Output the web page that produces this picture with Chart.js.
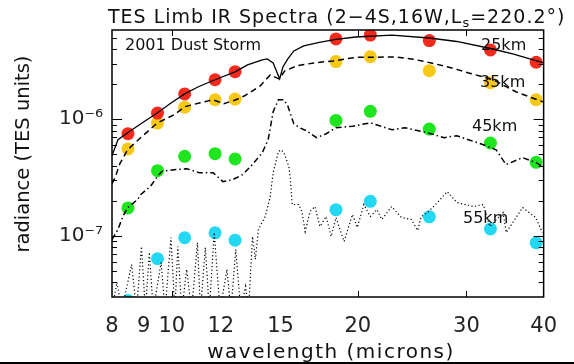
<!DOCTYPE html>
<html>
<head>
<meta charset="utf-8">
<script src="https://cdn.jsdelivr.net/npm/chart.js@4.4.0/dist/chart.umd.min.js"></script>
<style>
    html, body { margin: 0; padding: 0; background: #fff; }
    #wrap { width: 574px; height: 364px; position: relative; }
</style>
</head>
<body>
<div id="wrap"><canvas id="chart" width="574" height="364"></canvas></div>
<script>
(function () {
    "use strict";

    // TES band dots (microns) and limb radiances at each altitude
    const dotWavelengths = [8.49, 9.48, 10.49, 11.75, 12.66, 18.44, 20.96, 26.12, 32.8, 38.9];
    const dots25km = [0.752e-6, 1.13e-6, 1.65e-6, 2.18e-6, 2.56e-6, 4.88e-6, 5.27e-6, 4.72e-6, 3.93e-6, 3.08e-6];
    const dots35km = [0.556e-6, 0.928e-6, 1.27e-6, 1.47e-6, 1.49e-6, 3.12e-6, 3.44e-6, 2.61e-6, 2.06e-6, 1.47e-6];
    const dots45km = [0.174e-6, 0.363e-6, 0.481e-6, 0.507e-6, 0.457e-6, 0.977e-6, 1.17e-6, 0.824e-6, 0.626e-6, 0.428e-6];
    const dots55km = [0.028e-6, 0.0638e-6, 0.0966e-6, 0.1065e-6, 0.092e-6, 0.168e-6, 0.198e-6, 0.146e-6, 0.115e-6, 0.0875e-6];

    // spectra
    const spec25Wl = [8.0, 8.18, 8.48, 8.96, 9.48, 9.97, 10.49, 11.04, 11.75, 12.66, 13.26, 14.01, 14.27, 14.59, 14.81, 14.95, 15.13, 15.41, 15.76, 16.35, 17.33, 18.44, 19.84, 22.72, 26.12, 28.93, 32.8, 35.64, 40];
    const spec25 = [0.488e-6, 0.668e-6, 0.767e-6, 0.934e-6, 1.137e-6, 1.38e-6, 1.65e-6, 1.90e-6, 2.18e-6, 2.55e-6, 2.92e-6, 3.23e-6, 3.29e-6, 3.04e-6, 2.50e-6, 2.22e-6, 2.81e-6, 3.29e-6, 3.85e-6, 4.25e-6, 4.55e-6, 4.83e-6, 5.07e-6, 5.27e-6, 4.97e-6, 4.64e-6, 4.04e-6, 3.63e-6, 3.04e-6];

    const spec35Wl = [8.0, 8.09, 8.24, 8.48, 8.90, 9.48, 10.08, 10.49, 11.08, 11.66, 12.14, 12.70, 13.12, 13.9, 14.43, 14.91, 15.24, 15.94, 16.98, 18.24, 19.84, 22.97, 24.45, 26.31, 28.31, 30.46, 33.15, 36.06, 39.9];
    const spec35 = [0.28e-6, 0.316e-6, 0.417e-6, 0.548e-6, 0.695e-6, 0.934e-6, 1.09e-6, 1.28e-6, 1.38e-6, 1.47e-6, 1.36e-6, 1.47e-6, 1.59e-6, 1.93e-6, 2.40e-6, 2.22e-6, 2.60e-6, 2.87e-6, 3.04e-6, 3.16e-6, 3.39e-6, 3.42e-6, 3.29e-6, 3.04e-6, 2.76e-6, 2.47e-6, 2.18e-6, 1.72e-6, 1.41e-6];

    const spec45Wl = [8.0, 8.18, 8.33, 8.48, 8.80, 8.90, 9.23, 9.48, 9.64, 10.08, 10.57, 11.08, 11.66, 12.10, 12.55, 13.02, 13.50, 14.01, 14.32, 14.59, 14.88, 15.19, 15.41, 15.76, 16.10, 16.53, 17.15, 17.78, 18.44, 19.62, 20.96, 22.72, 23.83, 25.93, 27.60, 28.93, 31.95, 33.5, 34.76, 36.98, 38.9, 39.9];
    const spec45 = [0.0933e-6, 0.1137e-6, 0.1468e-6, 0.175e-6, 0.205e-6, 0.226e-6, 0.266e-6, 0.324e-6, 0.358e-6, 0.370e-6, 0.377e-6, 0.349e-6, 0.349e-6, 0.292e-6, 0.304e-6, 0.3355e-6, 0.4085e-6, 0.517e-6, 0.668e-6, 1.159e-6, 1.47e-6, 1.47e-6, 1.30e-6, 0.915e-6, 0.846e-6, 0.797e-6, 0.695e-6, 0.752e-6, 0.846e-6, 0.871e-6, 0.933e-6, 0.813e-6, 0.846e-6, 0.767e-6, 0.695e-6, 0.723e-6, 0.605e-6, 0.548e-6, 0.409e-6, 0.469e-6, 0.425e-6, 0.393e-6];

    const spec55Wl = [8.0, 8.148, 8.298, 8.608, 8.767, 8.929, 9.061, 9.195, 9.330, 9.608, 9.750, 9.967, 10.113, 10.225, 10.377, 10.568, 10.763, 11.003, 11.125, 11.331, 11.497, 11.710, 11.970, 12.281, 12.462, 12.692, 12.927, 13.166, 13.311, 13.507, 13.656, 13.807, 14.165, 14.43, 14.59, 14.88, 15.02, 15.19, 15.47, 15.56, 15.66, 16.05, 16.24, 16.44, 16.74, 17.05, 17.37, 17.78, 18.11, 18.44, 19.01, 19.61, 19.97, 20.46, 20.96, 21.48, 21.88, 22.70, 23.54, 24.42, 25.01, 25.34, 25.95, 26.92, 27.92, 28.96, 30.78, 31.94, 32.73, 34.38, 34.79, 36.99, 38.83, 39.80];
    const spec55 = [0.023e-6, 0.0401e-6, 0.023e-6, 0.0571e-6, 0.023e-6, 0.0813e-6, 0.023e-6, 0.0723e-6, 0.023e-6, 0.0594e-6, 0.023e-6, 0.0971e-6, 0.023e-6, 0.0813e-6, 0.023e-6, 0.0517e-6, 0.023e-6, 0.088e-6, 0.023e-6, 0.0797e-6, 0.023e-6, 0.107e-6, 0.023e-6, 0.0517e-6, 0.023e-6, 0.0767e-6, 0.023e-6, 0.037e-6, 0.023e-6, 0.099e-6, 0.063e-6, 0.1137e-6, 0.1468e-6, 0.2176e-6, 0.349e-6, 0.528e-6, 0.548e-6, 0.517e-6, 0.393e-6, 0.304e-6, 0.186e-6, 0.186e-6, 0.162e-6, 0.109e-6, 0.162e-6, 0.1787e-6, 0.1206e-6, 0.1468e-6, 0.099e-6, 0.1439e-6, 0.0897e-6, 0.1527e-6, 0.1182e-6, 0.186e-6, 0.1468e-6, 0.1684e-6, 0.1384e-6, 0.1787e-6, 0.1439e-6, 0.1384e-6, 0.1114e-6, 0.1468e-6, 0.1589e-6, 0.1933e-6, 0.240e-6, 0.1933e-6, 0.1787e-6, 0.186e-6, 0.1206e-6, 0.1589e-6, 0.107e-6, 0.175e-6, 0.1439e-6, 0.107e-6];

    // axes
    const xTickValues = [8, 9, 10, 12, 15, 20, 30, 40];
    const xInnerTicks = [10, 20, 30];
    const yLabelValues = [1e-7, 1e-6];
    const yLabelTexts = ["10\u207B\u2077", "10\u207B\u2076"];
    const yMin = 3.04e-8;
    const yMax = 5.82e-6;

    const altLabels = ["25km", "35km", "45km", "55km"];

    const FONT = '"DejaVu Sans", sans-serif';

    const pts = (xs, ys) => xs.map((x, i) => ({ x: x, y: ys[i] }));

    const lineSet = (xs, ys, dash, width) => ({
        data: pts(xs, ys),
        borderColor: "#000",
        borderWidth: width,
        borderDash: dash,
        pointRadius: 0,
        tension: 0,
        fill: false,
        clip: 0,
    });

    const dotSet = (ys, color) => ({
        data: pts(dotWavelengths, ys),
        showLine: false,
        pointRadius: 6.5,
        pointHoverRadius: 6.5,
        pointBorderWidth: 0,
        pointBackgroundColor: color,
        borderColor: color,
        clip: 0,
    });

    // yTicks at 1..9 per decade
    const yTickValues = [];
    for (let e = -8; e <= -6; e++) {
        for (let m = 1; m <= 9; m++) {
            const v = m * Math.pow(10, e);
            if (v >= yMin && v <= yMax) yTickValues.push(v);
        }
    }

    const isDecade = (v) => Math.abs(Math.log10(v) - Math.round(Math.log10(v))) < 1e-6;

    const decorations = {
        id: "decorations",
        afterDatasetsDraw(chart) {
            const { ctx, chartArea: a, scales } = chart;
            const x = scales.x, y = scales.y;
            ctx.save();

            // frame
            ctx.strokeStyle = "#000";
            ctx.lineWidth = 1.5;
            ctx.strokeRect(a.left, a.top, a.right - a.left, a.bottom - a.top);

            // inner ticks
            ctx.lineWidth = 1;
            ctx.beginPath();
            yTickValues.forEach((v) => {
                const py = Math.round(y.getPixelForValue(v)) + 0.5;
                const len = isDecade(v) ? 10 : 5;
                ctx.moveTo(a.left, py); ctx.lineTo(a.left + len, py);
                ctx.moveTo(a.right, py); ctx.lineTo(a.right - len, py);
            });
            xInnerTicks.forEach((v) => {
                const px = Math.round(x.getPixelForValue(v)) + 0.5;
                ctx.moveTo(px, a.bottom); ctx.lineTo(px, a.bottom - 6);
                ctx.moveTo(px, a.top); ctx.lineTo(px, a.top + 6);
            });
            ctx.stroke();

            // labels inside the plot
            ctx.fillStyle = "#111";
            ctx.font = "16px " + FONT;
            ctx.textBaseline = "middle";
            ctx.textAlign = "left";
            ctx.fillText("2001 Dust Storm", 125, 46);
            ctx.fillText(altLabels[0], 481, 46);
            ctx.fillText(altLabels[1], 480, 83);
            ctx.fillText(altLabels[2], 472, 127);
            ctx.fillText(altLabels[3], 463, 219);

            // title with subscript s
            ctx.textBaseline = "alphabetic";
            ctx.font = "19px " + FONT;
            ctx.letterSpacing = "1px";
            let tx = 108;
            const part1 = "TES Limb IR Spectra (2\u22124S,16W,L";
            ctx.fillText(part1, tx, 23);
            tx += ctx.measureText(part1).width;
            ctx.font = "13px " + FONT;
            ctx.fillText("s", tx, 27);
            tx += ctx.measureText("s").width;
            ctx.font = "19px " + FONT;
            ctx.fillText("=220.2\u00B0)", tx, 23);

            // x axis title
            ctx.font = "20px " + FONT;
            ctx.letterSpacing = "1.5px";
            ctx.textAlign = "center";
            ctx.fillText("wavelength (microns)", 331, 358);

            // y axis title
            ctx.letterSpacing = "0px";
            ctx.font = "19.5px " + FONT;
            ctx.translate(24, 154);
            ctx.rotate(-Math.PI / 2);
            ctx.textBaseline = "middle";
            ctx.fillText("radiance (TES units)", 0, 0);
            ctx.restore();

            // page rule at the bottom
            ctx.save();
            ctx.fillStyle = "#000";
            ctx.fillRect(0, 362, 574, 2);
            ctx.restore();
        },
    };

    const ctx = document.getElementById("chart").getContext("2d");

    new Chart(ctx, {
        type: "line",
        data: {
            datasets: [
                lineSet(spec25Wl, spec25, [], 1.3),
                lineSet(spec35Wl, spec35, [6, 4], 1.5),
                lineSet(spec45Wl, spec45, [6, 3, 1.5, 3], 1.5),
                lineSet(spec55Wl, spec55, [1.2, 2.4], 1.2),
                dotSet(dots25km, "#f42a1c"),
                dotSet(dots35km, "#f7c815"),
                dotSet(dots45km, "#1ee61e"),
                dotSet(dots55km, "#22d8f2"),
            ],
        },
        options: {
            responsive: false,
            animation: false,
            layout: {
                padding: { top: 30, right: 23, bottom: 0, left: 0 },
            },
            plugins: {
                legend: { display: false },
                title: { display: false },
                tooltip: { enabled: false },
            },
            scales: {
                x: {
                    type: "logarithmic",
                    min: 8,
                    max: 40,
                    afterBuildTicks: (scale) => {
                        scale.ticks = xTickValues.map((v) => ({ value: v }));
                    },
                    afterFit: (scale) => {
                        scale.height = 67;
                    },
                    ticks: {
                        autoSkip: false,
                        maxRotation: 0,
                        padding: 17,
                        color: "#222",
                        font: { family: FONT, size: 21 },
                        callback: (v) => String(v),
                    },
                    grid: { display: false, drawTicks: false },
                    border: { display: false },
                },
                y: {
                    type: "logarithmic",
                    min: yMin,
                    max: yMax,
                    afterBuildTicks: (scale) => {
                        scale.ticks = yTickValues.map((v) => ({ value: v }));
                    },
                    afterFit: (scale) => {
                        scale.width = 112;
                    },
                    ticks: {
                        autoSkip: false,
                        padding: 9,
                        color: "#222",
                        font: { family: FONT, size: 20 },
                        callback: (v) => {
                            const i = yLabelValues.findIndex((d) => Math.abs(d - v) / d < 1e-6);
                            return i >= 0 ? yLabelTexts[i] : "";
                        },
                    },
                    grid: { display: false, drawTicks: false },
                    border: { display: false },
                },
            },
        },
        plugins: [decorations],
    });
})();
</script>
</body>
</html>
